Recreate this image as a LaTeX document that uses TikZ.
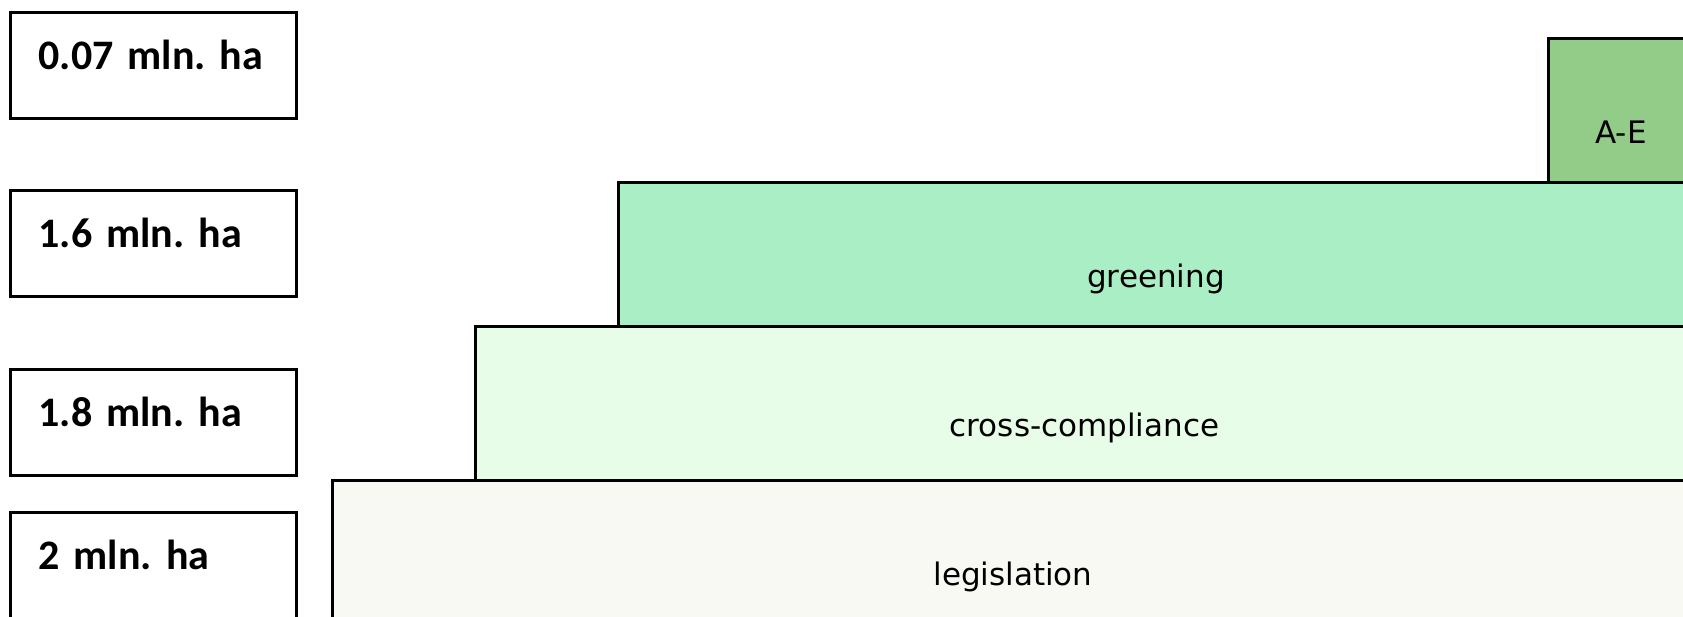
\documentclass[tikz,border=0pt]{standalone}
\usepackage{fontspec}
\setmainfont{Carlito}
\newfontfamily\layerfont{DejaVu Sans}
\usepackage{xcolor}
\usetikzlibrary{positioning}
\definecolor{aeGreen}{RGB}{147,203,137}
\definecolor{greenGreen}{RGB}{170,238,197}
\definecolor{crossGreen}{RGB}{232,253,232}
\definecolor{legisGray}{RGB}{248,249,243}
\frenchspacing

\begin{document}
\begin{tikzpicture}[x=1pt,y=-1pt,line width=3pt]
        \tikzstyle{valbox}=[rectangle,draw=black,anchor=north west,minimum width=286pt,minimum height=106pt,inner xsep=28pt,text width=230pt,align=left,text height=30pt,text depth=22pt,font=\fontsize{42}{50}\selectfont\bfseries]
        \tikzstyle{layer}=[rectangle,draw=black,anchor=north west,inner sep=0pt,text height=66pt,text depth=0pt,font=\layerfont\fontsize{31}{36}\selectfont]
        \clip (0,0) rectangle (1683,616);
        % value labels
        \node[valbox] (v007) at (9,11) {0.07 mln. ha};
        \node[valbox] (v16) at (9,189) {1.6 mln. ha};
        \node[valbox] (v18) at (9,368) {1.8 mln. ha};
        \node[valbox] (v2) at (9,511) {2 mln. ha};
        % stacked layers
        \node[layer,fill=legisGray,minimum width=1361pt,minimum height=143pt] (legis) at (331,479) {legislation};
        \node[layer,fill=crossGreen,minimum width=1218pt,minimum height=154pt] (cross) at (474,325) {cross-compliance};
        \node[layer,fill=greenGreen,minimum width=1075pt,minimum height=144pt] (greening) at (617,181) {greening};
        \node[layer,fill=aeGreen,minimum width=145pt,minimum height=144pt] (ae) at (1547,37) {A-E};
\end{tikzpicture}
\end{document}
